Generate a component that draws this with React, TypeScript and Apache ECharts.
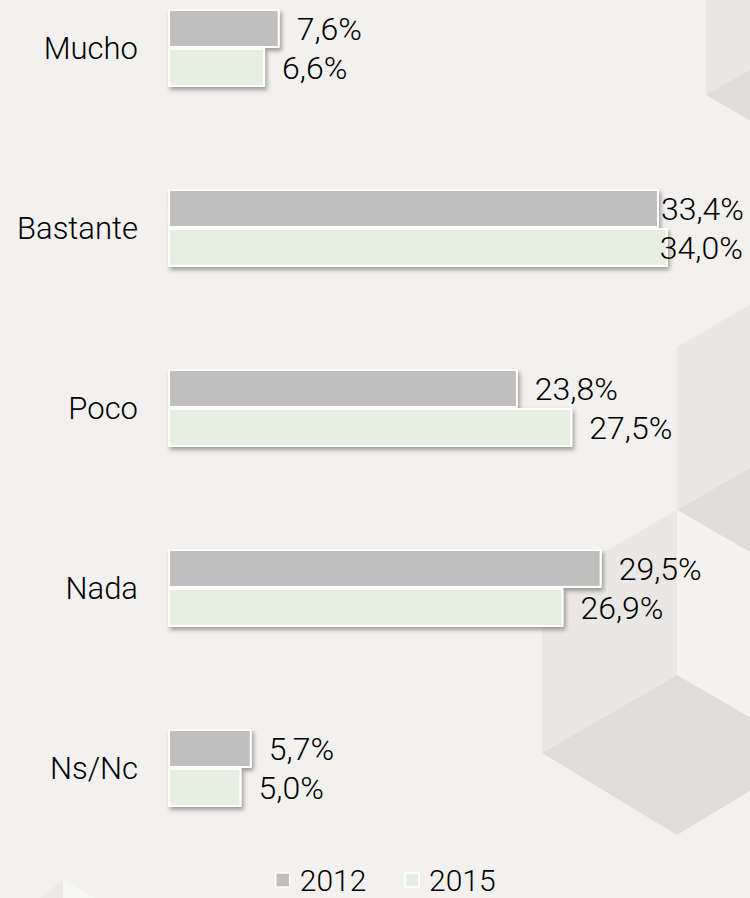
import React, { useEffect, useRef } from "react";
import * as echarts from "echarts";

const categories = ["Mucho", "Bastante", "Poco", "Nada", "Ns/Nc"];
const seriesNames = ["2012", "2015"];
const values2012 = [7.6, 33.4, 23.8, 29.5, 5.7];
const values2015 = [6.6, 34.0, 27.5, 26.9, 5.0];
const seriesColors = ["#bfbfbf", "#e7f0e0"];

const fmt = (v: number) => v.toFixed(1).replace(".", ",") + "%";

// label offsets for the long bars, whose labels were pulled back to fit the page
const labelOffsets2012: Record<number, number[]> = { 1: [-15, 0] };
const labelOffsets2015: Record<number, number[]> = { 1: [-25, 0] };

function makeData(vals: number[], offs: Record<number, number[]>) {
  return vals.map((v, i) =>
    offs[i] ? { value: v, label: { offset: offs[i] } } : { value: v }
  );
}

export default function App() {
  const ref = useRef<HTMLDivElement>(null);
  useEffect(() => {
    if (!ref.current) return;
    const chart = echarts.init(ref.current, null, { renderer: "svg" });
    const valueLabel = {
      show: true,
      position: "right",
      distance: 17,
      formatter: (p: any) => fmt(p.value),
      fontFamily: "Roboto",
      fontSize: 32,
      fontWeight: 300,
      color: "#000000",
    };
    const barStyle = (c: string) => ({
      color: c,
      borderColor: "#ffffff",
      borderWidth: 2,
      shadowColor: "rgba(0,0,0,0.35)",
      shadowBlur: 4,
      shadowOffsetX: 2,
      shadowOffsetY: 3,
    });
    const poly = (points: number[][], fill: string) => ({
      type: "polygon",
      silent: true,
      z: -10,
      shape: { points },
      style: { fill },
    });
    chart.setOption({
      animation: false,
      backgroundColor: "#f2f1ef",
      graphic: [
        poly([[706, -68], [841, -146], [841, 17], [706, 95]], "#e9e8e4"),
        poly([[706, 95], [841, 17], [976, 95], [841, 173]], "#dfdedc"),
        poly([[677, 347], [812, 269], [812, 432], [677, 510]], "#e9e8e4"),
        poly([[677, 510], [812, 432], [947, 510], [812, 588]], "#dfdedc"),
        poly([[677, 510], [812, 588], [812, 753], [677, 675]], "#f4f3f1"),
        poly([[542, 588], [677, 510], [677, 675], [542, 753]], "#e9e8e4"),
        poly([[542, 753], [677, 675], [812, 753], [677, 835]], "#dfdedc"),
        poly([[40, 898], [63, 880], [63, 898]], "#ebeae6"),
        poly([[63, 880], [95, 898], [63, 898]], "#f6f6f4"),
      ],
      grid: {
        left: 168,
        width: 588,
        top: -42,
        height: 900,
        outerBoundsMode: "none",
        containLabel: false,
      },
      xAxis: {
        type: "value",
        min: 0,
        max: 40,
        show: false,
      },
      yAxis: {
        type: "category",
        data: categories,
        inverse: true,
        axisLine: { show: false },
        axisTick: { show: false },
        axisLabel: {
          margin: 30,
          fontFamily: "Roboto",
          fontSize: 31,
          fontWeight: 300,
          color: "#000000",
        },
      },
      legend: {
        data: seriesNames,
        bottom: -2,
        left: 270,
        icon: "rect",
        itemWidth: 14,
        itemHeight: 14,
        itemGap: 38,
        itemStyle: { borderColor: "#ffffff", borderWidth: 1.5, shadowBlur: 0, shadowOffsetX: 0, shadowOffsetY: 0 },
        textStyle: {
          fontFamily: "Roboto",
          fontSize: 30,
          fontWeight: 300,
          color: "#000000",
          padding: [0, 0, 0, 5],
        },
      },
      series: [
        {
          name: seriesNames[0],
          type: "bar",
          barWidth: 39,
          barGap: "0%",
          data: makeData(values2012, labelOffsets2012),
          itemStyle: barStyle(seriesColors[0]),
          label: valueLabel,
        },
        {
          name: seriesNames[1],
          type: "bar",
          barWidth: 39,
          barGap: "0%",
          data: makeData(values2015, labelOffsets2015),
          itemStyle: barStyle(seriesColors[1]),
          label: valueLabel,
        },
      ],
    });
    return () => chart.dispose();
  }, []);
  return (
    <div
      ref={ref}
      style={{ position: "fixed", left: 0, top: 0, width: 750, height: 898 }}
    />
  );
}
